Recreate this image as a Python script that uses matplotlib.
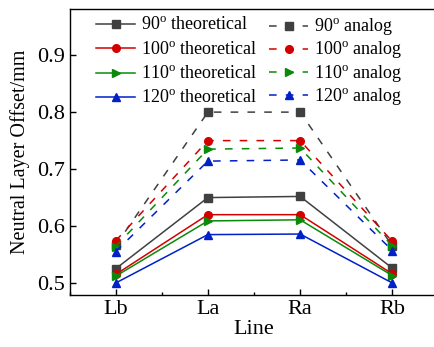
import matplotlib
matplotlib.use('Agg')
import matplotlib.pyplot as plt
from matplotlib.ticker import AutoMinorLocator, MultipleLocator

# data
lines = ['Lb', 'La', 'Ra', 'Rb']
angles = ['90', '100', '110', '120']

theoretical = [
    [0.525, 0.650, 0.652, 0.526],  # 90
    [0.515, 0.620, 0.620, 0.516],  # 100
    [0.512, 0.609, 0.611, 0.513],  # 110
    [0.500, 0.585, 0.586, 0.500],  # 120
]
analog = [
    [0.566, 0.800, 0.800, 0.565],  # 90
    [0.574, 0.750, 0.750, 0.573],  # 100
    [0.564, 0.735, 0.737, 0.565],  # 110
    [0.555, 0.714, 0.716, 0.557],  # 120
]

colors = ['#404040', '#d40000', '#0a8a0a', '#0020c8']
markers = ['s', 'o', '>', '^']

plt.rcParams['font.family'] = ['Liberation Serif', 'DejaVu Serif']
plt.rcParams['mathtext.fontset'] = 'custom'
plt.rcParams['mathtext.rm'] = 'Liberation Serif'

fig = plt.figure(figsize=(4.34, 3.47), dpi=100)
ax = fig.add_axes([69.5 / 434, 1 - 295 / 347, 369 / 434, 286 / 347])

x = range(len(lines))
h_theo, h_ana = [], []
for i in range(4):
    h, = ax.plot(x, theoretical[i], color=colors[i], marker=markers[i], ms=5.5,
                 lw=1.1, label=angles[i] + r'$^{\rm o}$ theoretical')
    h_theo.append(h)
for i in range(4):
    h, = ax.plot(x, analog[i], color=colors[i], marker=markers[i], ms=5.5,
                 lw=1.1, dashes=(5, 6), label=angles[i] + r'$^{\rm o}$ analog')
    h_ana.append(h)

ax.set_xlim(-0.5, 3.5)
ax.set_ylim(0.479, 0.981)
ax.set_xticks(list(x))
ax.set_xticklabels(lines)
ax.xaxis.set_minor_locator(AutoMinorLocator(2))
ax.yaxis.set_major_locator(MultipleLocator(0.1))
ax.tick_params(direction='in', labelsize=16, length=4.5, width=1)
ax.tick_params(which='minor', direction='in', length=2.5, width=1)
ax.tick_params(axis='y', which='minor', left=False)
for s in ax.spines.values():
    s.set_linewidth(1)

ax.set_xlabel('Line', fontsize=16, labelpad=1)
ax.set_ylabel('Neutral Layer Offset/mm', fontsize=14.5, labelpad=5)

# two legend columns placed separately so the rows line up
leg_kw = dict(frameon=False, fontsize=13, loc='upper left',
              bbox_transform=fig.transFigure, borderaxespad=0, borderpad=0,
              handlelength=2.17, handletextpad=0.33)
leg1 = ax.legend(handles=h_theo, bbox_to_anchor=(96 / 434, 1 - 17 / 347),
                 labelspacing=0.39, **leg_kw)
ax.add_artist(leg1)
ax.legend(handles=h_ana, bbox_to_anchor=(269 / 434, 1 - 17 / 347),
          labelspacing=0.1, **leg_kw)

fig.savefig('out.png', dpi=100)
